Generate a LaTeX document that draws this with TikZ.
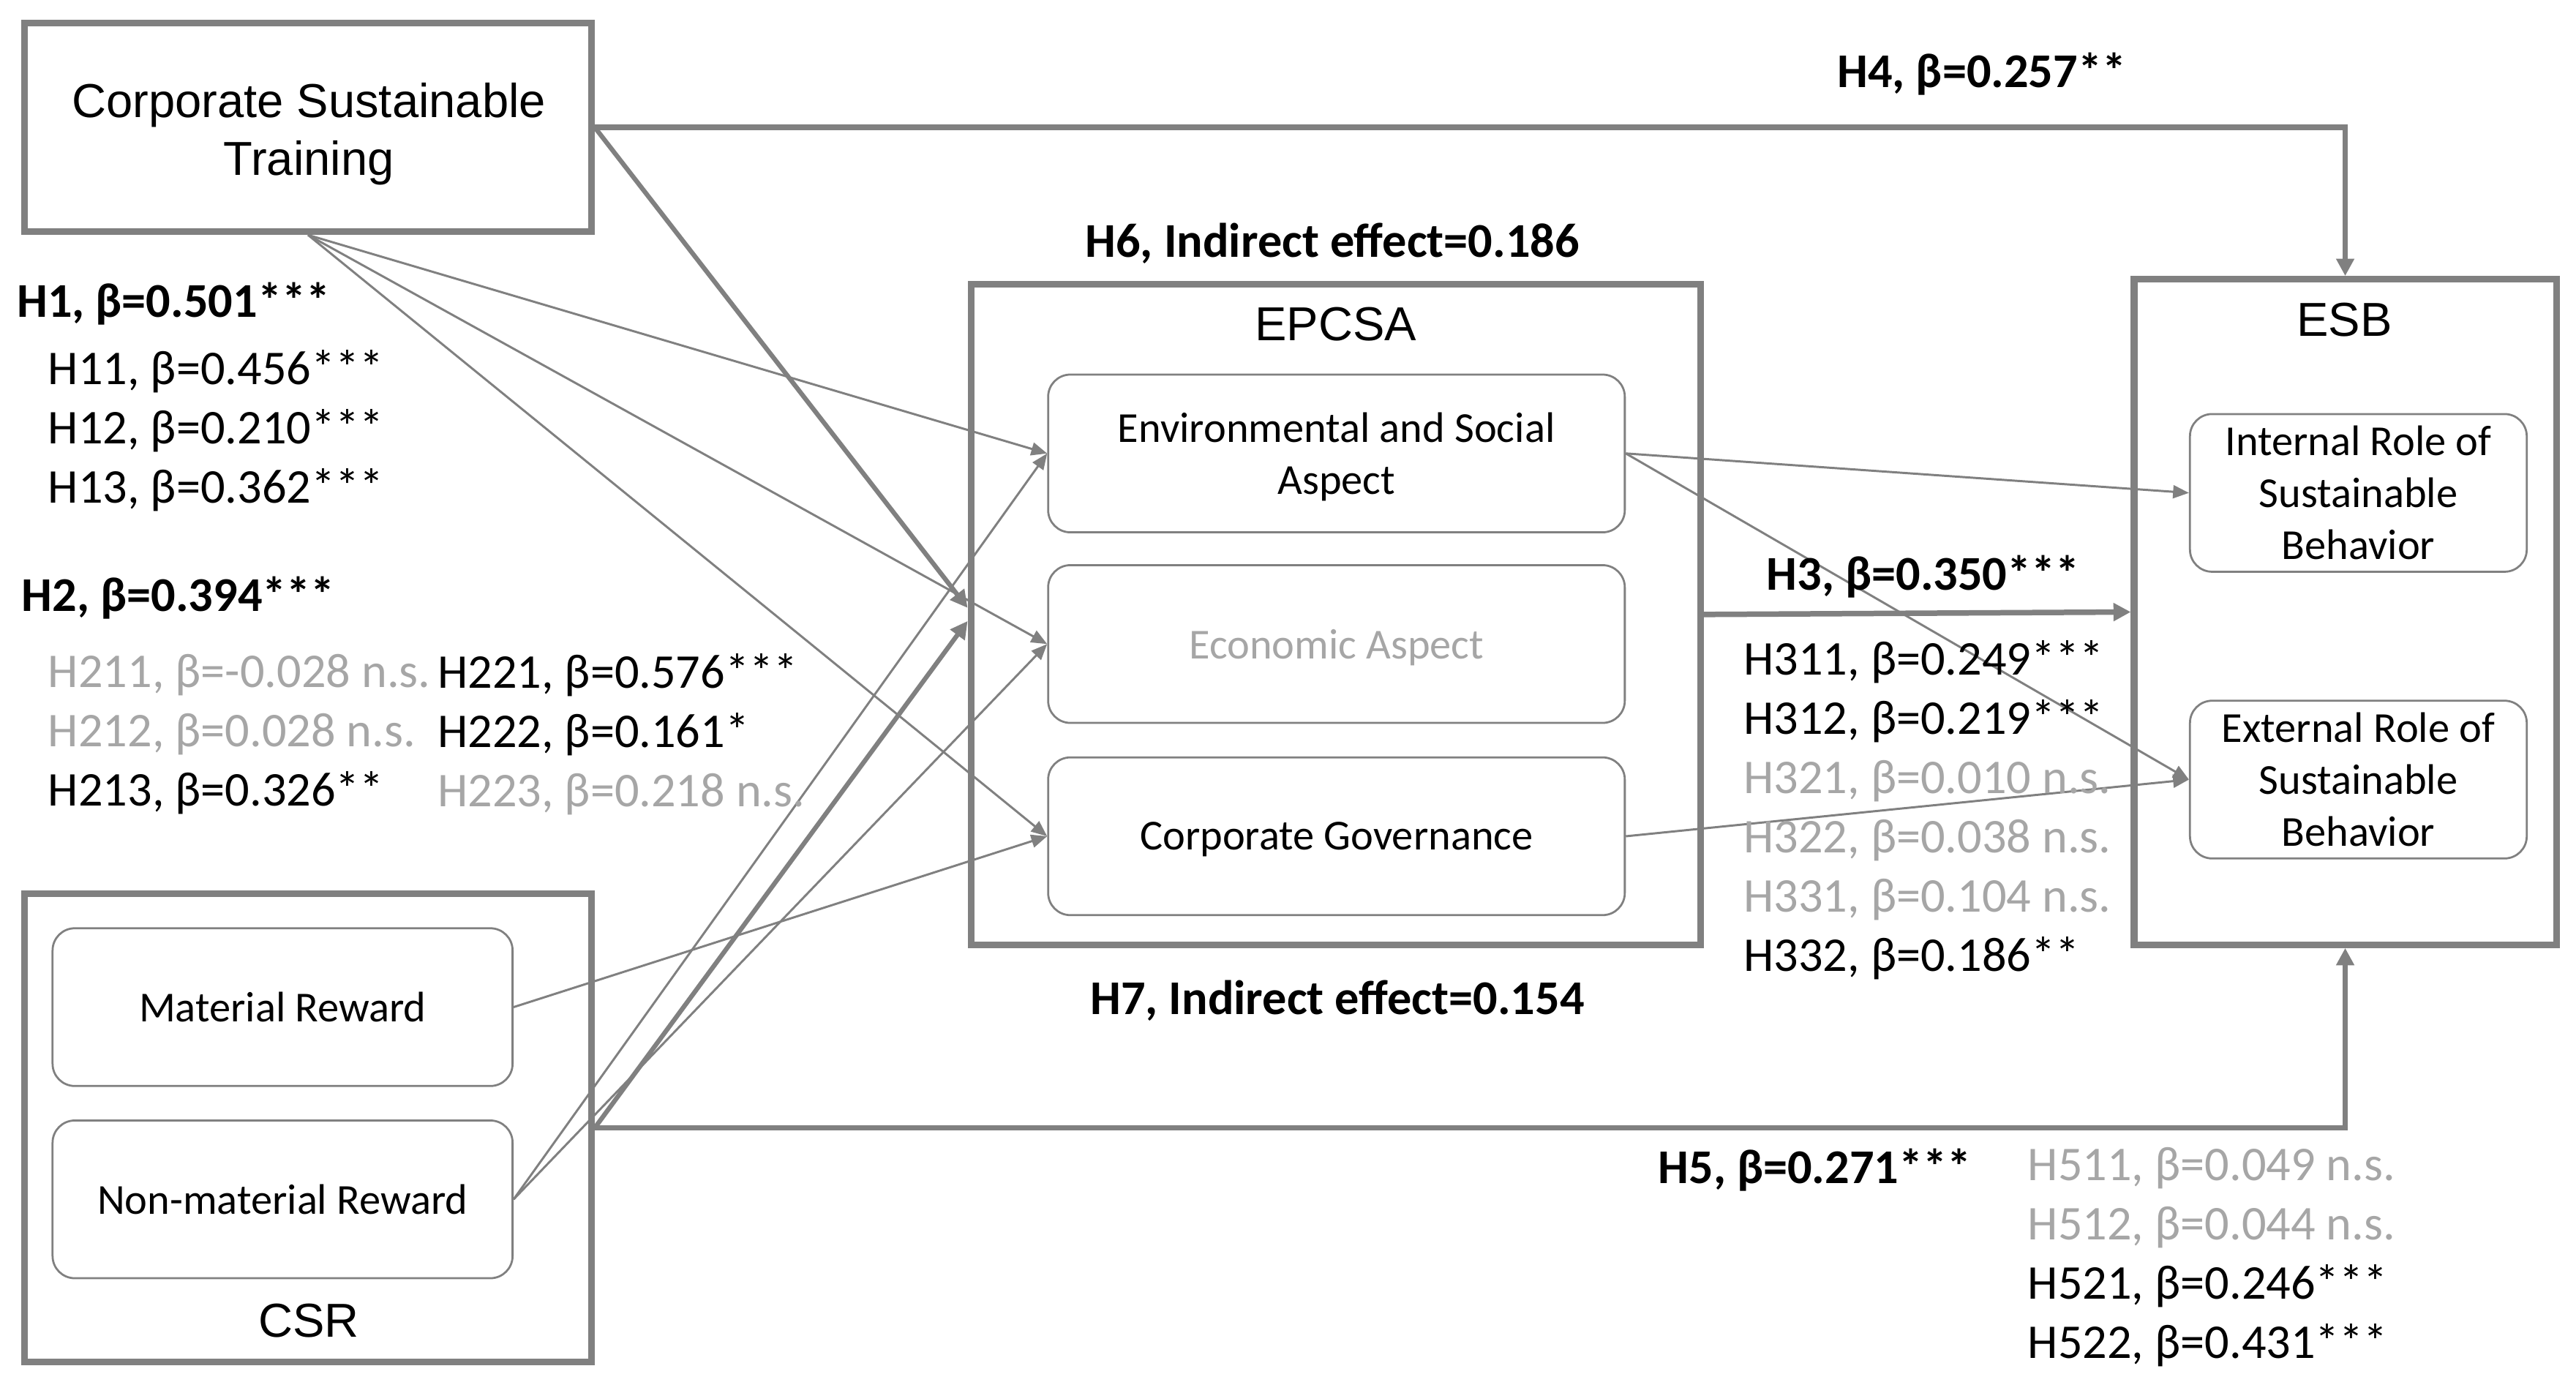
\documentclass[tikz,border=0pt]{standalone}
\usepackage{fontspec}
\setmainfont{Carlito}
\newfontfamily\arialfont{Liberation Sans}
\usetikzlibrary{arrows.meta}
\definecolor{linegray}{RGB}{128,128,128}
\definecolor{nsgray}{RGB}{166,166,166}

\begin{document}
\begin{tikzpicture}[
	box/.style={draw=linegray, line width=2.3pt, inner sep=0pt},
	dim/.style={draw=linegray, line width=0.7pt, rounded corners=0.27cm, align=center, inner sep=0pt, minimum height=1.92cm, text depth=0pt, font=\fontsize{14.8}{18}\selectfont},
	title/.style={inner sep=0pt, align=center, font=\arialfont\fontsize{16.5}{19.9}\selectfont},
	est/.style={inner sep=0pt, anchor=west, align=left, font=\fontsize{16.8}{20.5}\selectfont},
	estb/.style={est, font=\fontsize{16.8}{20.5}\selectfont\bfseries},
	effect/.style={draw=linegray, line width=0.75pt, -{Triangle[length=5.5pt,width=4.5pt]}},
	total/.style={draw=linegray, line width=1.9pt, -{Triangle[length=6pt,width=6pt]}}
	]
	\useasboundingbox (0,0) rectangle (31.36,-16.86);

	\node[box, minimum width=6.9cm, minimum height=2.54cm] (cst) at (3.75,-1.55) {};
	\node[title] (cstt) at (3.76,-1.63) {Corporate Sustainable\\Training};

	\node[box, minimum width=6.9cm, minimum height=5.7cm] (csr) at (3.75,-13.73) {};
	\node[title] (csrt) at (3.76,-16.08) {CSR};
	\node[dim, minimum width=5.6cm] (mr) at (3.44,-12.26) {Material Reward};
	\node[dim, minimum width=5.6cm] (nmr) at (3.44,-14.60) {Non-material Reward};

	\node[box, minimum width=8.88cm, minimum height=8.04cm] (epcsa) at (16.26,-7.48) {};
	\node[title] (epcsat) at (16.26,-3.95) {EPCSA};
	\node[dim, minimum width=7.02cm] (esa) at (16.27,-5.52) {Environmental and Social\\Aspect};
	\node[dim, minimum width=7.02cm, text=nsgray] (ea) at (16.27,-7.84) {Economic Aspect};
	\node[dim, minimum width=7.02cm] (cg) at (16.27,-10.18) {Corporate Governance};

	\node[box, minimum width=5.14cm, minimum height=8.10cm] (esb) at (28.55,-7.45) {};
	\node[title] (esbt) at (28.54,-3.89) {ESB};
	\node[dim, minimum width=4.1cm] (irsb) at (28.71,-6.00) {Internal Role of\\Sustainable\\Behavior};
	\node[dim, minimum width=4.1cm] (ersb) at (28.71,-9.49) {External Role of\\Sustainable\\Behavior};

	\draw[total] (cst.east) -| (esb.north);
	\draw[total] (csr.east) -| (esb.south);
	\draw[total] (epcsa.east) -- (esb.west);
	\draw[total, line width=1.6pt] (cst.east) -- ([yshift=0.08cm]epcsa.west);
	\draw[total, line width=1.6pt] (csr.east) -- ([yshift=-0.08cm]epcsa.west);

	\draw[effect] (cst.south) -- (esa.west);
	\draw[effect] (cst.south) -- (ea.west);
	\draw[effect] (cst.south) -- (cg.west);
	\draw[effect] (mr.east) -- (cg.west);
	\draw[effect] (nmr.east) -- (esa.west);
	\draw[effect] (nmr.east) -- (ea.west);
	\draw[effect] (esa.east) -- (irsb.west);
	\draw[effect] (esa.east) -- (ersb.west);
	\draw[effect] (cg.east) -- (ersb.west);

	\node[estb] (h1) at (0.2,-3.70) {H1, β=0.501***};
	\node[est] (h1x) at (0.58,-5.24) {H11, β=0.456***\\H12, β=0.210***\\H13, β=0.362***};
	\node[estb] (h2) at (0.26,-7.28) {H2, β=0.394***};
	\node[est] (h21x) at (0.58,-8.94) {\textcolor{nsgray}{H211, β=-0.028 n.s.}\\\textcolor{nsgray}{H212, β=0.028 n.s.}\\H213, β=0.326**};
	\node[est] (h22x) at (5.32,-8.94) {H221, β=0.576***\\H222, β=0.161*\\\textcolor{nsgray}{H223, β=0.218 n.s.}};
	\node[estb] (h4) at (22.36,-0.90) {H4, β=0.257**};
	\node[estb, anchor=center] (h6) at (16.22,-2.96) {H6, Indirect effect=0.186};
	\node[estb, anchor=center] (h7) at (16.28,-12.18) {H7, Indirect effect=0.154};
	\node[estb] (h3) at (21.50,-7.02) {H3, β=0.350***};
	\node[est] (h3x) at (21.22,-9.86) {H311, β=0.249***\\H312, β=0.219***\\\textcolor{nsgray}{H321, β=0.010 n.s.}\\\textcolor{nsgray}{H322, β=0.038 n.s.}\\\textcolor{nsgray}{H331, β=0.104 n.s.}\\H332, β=0.186**};
	\node[estb] (h5) at (20.18,-14.24) {H5, β=0.271***};
	\node[est] (h5x) at (24.68,-15.30) {\textcolor{nsgray}{H511, β=0.049 n.s.}\\\textcolor{nsgray}{H512, β=0.044 n.s.}\\H521, β=0.246***\\H522, β=0.431***};
\end{tikzpicture}
\end{document}
